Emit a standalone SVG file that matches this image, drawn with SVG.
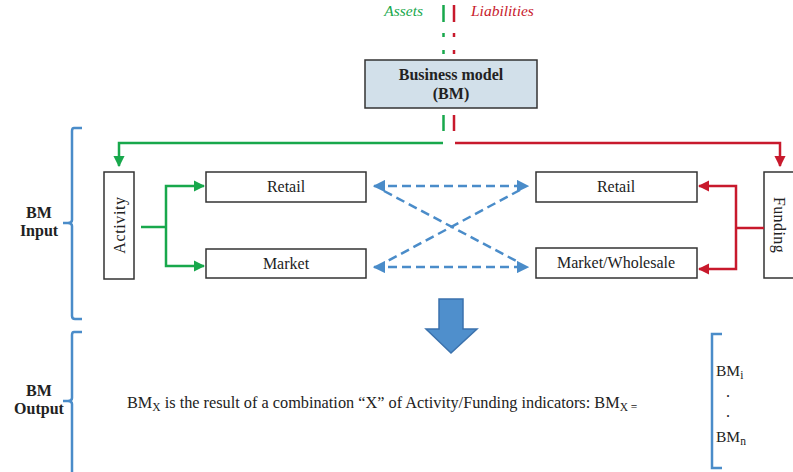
<svg xmlns="http://www.w3.org/2000/svg" width="793" height="472" viewBox="0 0 793 472">
<style>
  text { font-family: "Liberation Serif", "DejaVu Serif", serif; fill: #222; }
  .lbl { font-size: 16px; text-anchor: middle; }
  .bold { font-weight: bold; }
  .box { fill: #fff; stroke: #333; stroke-width: 1.5; }
  .g { stroke: #18a84c; stroke-width: 2.5; fill: none; }
  .r { stroke: #c8192c; stroke-width: 2.5; fill: none; }
  .b { stroke: #4a8cc9; stroke-width: 2.5; fill: none; stroke-dasharray: 9 5; }
  .br { stroke: #4a8cc9; stroke-width: 2.5; fill: none; }
</style>
<defs>
  <marker id="ag" viewBox="0 0 10 10" refX="9" refY="5" markerWidth="4.5" markerHeight="4.5" markerUnits="strokeWidth" orient="auto">
    <path d="M0,0 L10,5 L0,10 z" fill="#18a84c"/>
  </marker>
  <marker id="ar" viewBox="0 0 10 10" refX="9" refY="5" markerWidth="4.5" markerHeight="4.5" markerUnits="strokeWidth" orient="auto">
    <path d="M0,0 L10,5 L0,10 z" fill="#c8192c"/>
  </marker>
  <marker id="ab" viewBox="0 0 10 10" refX="9" refY="5" markerWidth="5" markerHeight="5" markerUnits="strokeWidth" orient="auto-start-reverse">
    <path d="M0,0 L10,5 L0,10 z" fill="#4a8cc9"/>
  </marker>
</defs>

<g id="header">
  <text x="423" y="16" font-size="15.5" font-style="italic" text-anchor="end" style="fill:#18a84c">Assets</text>
  <text x="471" y="16" font-size="15.5" font-style="italic" style="fill:#c8192c">Liabilities</text>
</g>

<g id="bm">
  <rect x="365" y="60" width="172" height="48" fill="#d2e0ea" stroke="#333" stroke-width="1.5"/>
  <text x="451" y="80" class="lbl bold" font-size="16.5">Business model</text>
  <text x="451" y="99" class="lbl bold" font-size="16.5">(BM)</text>
</g>

<g id="activity">
  <rect class="box" x="104" y="172" width="30" height="107"/>
  <text class="lbl" transform="translate(124.5,225) rotate(-90)" letter-spacing="0.6">Activity</text>
</g>
<g id="retail-a">
  <rect class="box" x="206" y="172" width="160" height="30"/>
  <text class="lbl" x="286" y="192">Retail</text>
</g>
<g id="market-a">
  <rect class="box" x="206" y="249" width="160" height="29"/>
  <text class="lbl" x="286" y="269">Market</text>
</g>
<g id="retail-f">
  <rect class="box" x="536" y="172" width="161" height="30"/>
  <text class="lbl" x="616" y="192">Retail</text>
</g>
<g id="market-f">
  <rect class="box" x="536" y="248" width="161" height="30"/>
  <text class="lbl" x="616" y="268">Market/Wholesale</text>
</g>
<g id="funding">
  <rect class="box" x="764" y="172" width="31" height="106"/>
  <text class="lbl" transform="translate(774,225) rotate(90)" letter-spacing="0.4">Funding</text>
</g>

<g id="connectors">
  <path class="g" d="M443.5,5 V22 M443.5,33 V37 M443.5,50 V54 M443.5,115 V131"/>
  <path class="r" d="M454,5 V22 M454,33 V37 M454,50 V54 M454,115 V131"/>
  <path class="g" d="M443,143 H119 V166" marker-end="url(#ag)"/>
  <path class="r" d="M455,143 H780 V166" marker-end="url(#ar)"/>
  <path class="g" d="M141,227 H166"/>
  <path class="g" d="M166,227 V186 H204" marker-end="url(#ag)"/>
  <path class="g" d="M166,227 V266 H204" marker-end="url(#ag)"/>
  <path class="r" d="M764,228 H736"/>
  <path class="r" d="M736,228 V186 H699" marker-end="url(#ar)"/>
  <path class="r" d="M736,228 V269 H699" marker-end="url(#ar)"/>
  <line class="b" x1="374" y1="186" x2="528" y2="186" marker-start="url(#ab)" marker-end="url(#ab)"/>
  <line class="b" x1="374" y1="267" x2="528" y2="267" marker-start="url(#ab)" marker-end="url(#ab)"/>
  <line class="b" x1="384" y1="191" x2="520" y2="263"/>
  <line class="b" x1="520" y1="190" x2="384" y2="263"/>
</g>

<g id="big-arrow">
  <path d="M439,299 H463 V329 H477 L451,353 L426,329 H439 Z" fill="#4f8fcc" stroke="#3b72ad" stroke-width="1.5"/>
</g>

<g id="input-brace">
  <path class="br" d="M82,128 H74 Q72,128 72,131 V220 Q72,223 68,223 H63 M68,223 Q72,223 72,226 V316 Q72,319 75,319 H82"/>
  <text class="lbl bold" x="39" y="218" font-size="15.5">BM</text>
  <text class="lbl bold" x="39" y="236" font-size="15.5">Input</text>
</g>
<g id="output-brace">
  <path class="br" d="M82,332 H74 Q72,332 72,335 V398 Q72,401 68,401 H63 M68,401 Q72,401 72,404 V472"/>
  <text class="lbl bold" x="39" y="396" font-size="15.5">BM</text>
  <text class="lbl bold" x="39" y="414" font-size="15.5">Output</text>
</g>

<g id="output-text">
  <text x="127" y="408" font-size="16.3">BM<tspan font-size="11.5" dy="3">X</tspan><tspan dy="-3"> is the result of a combination “X” of Activity/Funding indicators: BM</tspan><tspan font-size="11.5" dy="3">X =</tspan></text>
</g>

<g id="bm-list">
  <path class="br" d="M722,334 H712 V468 H722"/>
  <text x="716" y="376" font-size="15.5">BM<tspan font-size="11.5" dy="3">i</tspan></text>
  <text x="728" y="397" font-size="16" text-anchor="middle">.</text>
  <text x="728" y="417" font-size="16" text-anchor="middle">.</text>
  <text x="716" y="442" font-size="15.5">BM<tspan font-size="11.5" dy="3">n</tspan></text>
</g>
</svg>
